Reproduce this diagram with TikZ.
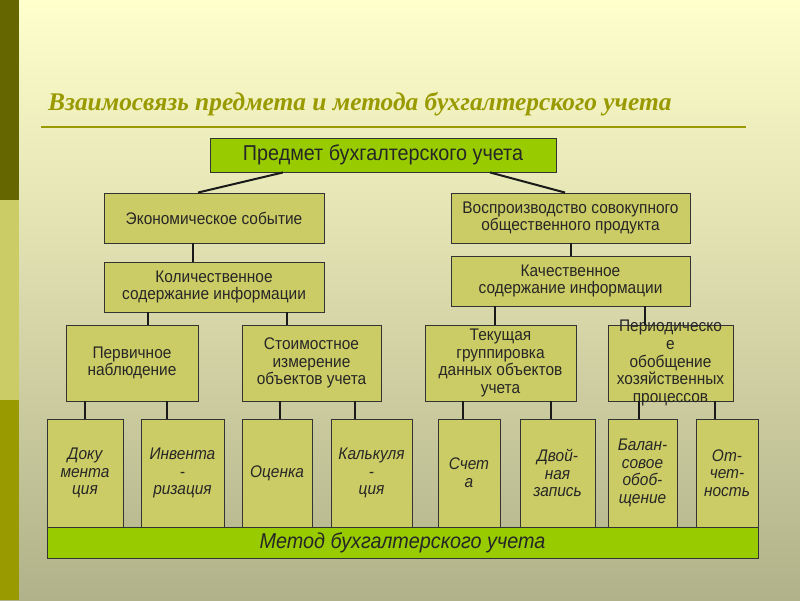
\documentclass[tikz,border=0pt]{standalone}
\usepackage{fontspec}
\setmainfont[FakeStretch=0.92]{Liberation Sans}
\newfontfamily\titlefont{Liberation Serif}
\usetikzlibrary{calc}

\definecolor{bgtop}{HTML}{FFFFCC}
\definecolor{bgbot}{HTML}{B2B28A}
\definecolor{stripdark}{HTML}{666600}
\definecolor{striplight}{HTML}{CCCC66}
\definecolor{stripmid}{HTML}{999900}
\definecolor{boxfill}{HTML}{CCCC66}
\definecolor{greenfill}{HTML}{99CC00}
\definecolor{titlecol}{HTML}{999900}

\begin{document}
\begin{tikzpicture}[
  x=1pt, y=-1pt,
  box/.style={
    rectangle, draw=black!80, fill=boxfill, line width=0.9pt,
    align=center, inner sep=0pt, text=black!85,
    font=\fontsize{16.8}{17.7}\selectfont
  },
  head/.style={box, fill=greenfill, font=\fontsize{21.5}{23}\selectfont},
  leaf/.style={box, minimum height=108pt, font=\itshape\fontsize{16.8}{17.7}\selectfont},
  link/.style={line width=2pt, black!90},
  rule/.style={line width=2.4pt, titlecol}
]
\useasboundingbox (0,0) rectangle (800,600);

% --- background and left strip ---
\shade[top color=bgtop, bottom color=bgbot] (0,0) rectangle (800,600);
\fill[stripdark] (0,0) rectangle (19,200);
\fill[striplight] (0,200) rectangle (19,400);
\fill[stripmid] (0,400) rectangle (19,600);

% --- title ---
\node[anchor=base west, inner sep=0pt, text=titlecol,
  font=\titlefont\bfseries\itshape\fontsize{25.4}{29}\selectfont] (title) at (48,110)
  {Взаимосвязь предмета и метода бухгалтерского учета};
\draw[rule] (41,127) -- (746,127);

% --- subject ---
\node[head, minimum width=346pt, minimum height=34pt] (pred) at (383,155)
  {Предмет бухгалтерского учета};

% --- second level ---
\node[box, minimum width=220pt, minimum height=50pt] (econ) at (214,218)
  {Экономическое событие};
\node[box, minimum width=239pt, minimum height=50pt] (vosp) at (570.5,218)
  {Воспроизводство совокупного\\общественного продукта};

% --- third level ---
\node[box, minimum width=220pt, minimum height=50pt] (kol) at (214,287)
  {Количественное\\содержание информации};
\node[box, minimum width=239pt, minimum height=50pt] (kach) at (570.5,281)
  {Качественное\\содержание информации};

% --- fourth level ---
\node[box, minimum width=132pt, minimum height=76pt] (perv) at (132,363)
  {Первичное\\наблюдение};
\node[box, minimum width=139pt, minimum height=76pt] (stoim) at (311.5,363)
  {Стоимостное\\измерение\\объектов учета};
\node[box, minimum width=151pt, minimum height=76pt] (tek) at (500.5,363)
  {\parbox[c][76pt][c]{151pt}{\centering Текущая\\группировка\\данных объектов\\учета}};
\node[box, minimum width=125pt, minimum height=76pt] (period) at (670.5,363)
  {\parbox[c][76pt][c]{125pt}{\centering Периодическо\\е\\обобщение\\хозяйственных\\процессов}};

% --- method elements ---
\node[leaf, minimum width=76pt] (doc) at (85,473) {Доку\\мента\\ция};
\node[leaf, minimum width=83pt] (inv) at (182.5,473) {Инвента\\-\\ризация};
\node[leaf, minimum width=70pt] (ocen) at (277,473) {Оценка};
\node[leaf, minimum width=81pt] (kalk) at (371.5,473) {Калькуля\\-\\ция};
\node[leaf, minimum width=62pt] (scheta) at (469,473) {Счет\\а};
\node[leaf, minimum width=75pt] (dvoi) at (557.5,473) {Двой-\\ная\\запись};
\node[leaf, minimum width=69pt] (balan) at (642.5,473) {Балан-\\совое\\обоб-\\щение};
\node[leaf, minimum width=62pt] (otch) at (727,473) {От-\\чет-\\ность};

% --- method ---
\node[head, minimum width=711pt, minimum height=31pt,
  font=\itshape\fontsize{21.5}{23}\selectfont] (metod) at (402.5,542.5)
  {Метод бухгалтерского учета};

% --- connectors ---
\draw[link] ([xshift=-100pt]pred.south) -- ([xshift=-16pt]econ.north);
\draw[link] ([xshift=107pt]pred.south) -- ([xshift=-5.5pt]vosp.north);
\foreach \from/\dx/\to/\dy in {econ/-21/kol/-21, vosp/0.5/kach/0.5,
    kol/-66/perv/16, kol/73/stoim/-24.5, kach/-75.5/tek/-5.5, kach/74.5/period/-25.5,
    perv/-47/doc/0, perv/35/inv/-15.5, stoim/-31.5/ocen/3, stoim/43.5/kalk/-16.5,
    tek/-37.5/scheta/-6, tek/50.5/dvoi/-6.5, period/-31.5/balan/-3.5, period/44.5/otch/-12}
  \draw[link] ([xshift=\dx pt]\from.south) -- ([xshift=\dy pt]\to.north);

\end{tikzpicture}
\end{document}
